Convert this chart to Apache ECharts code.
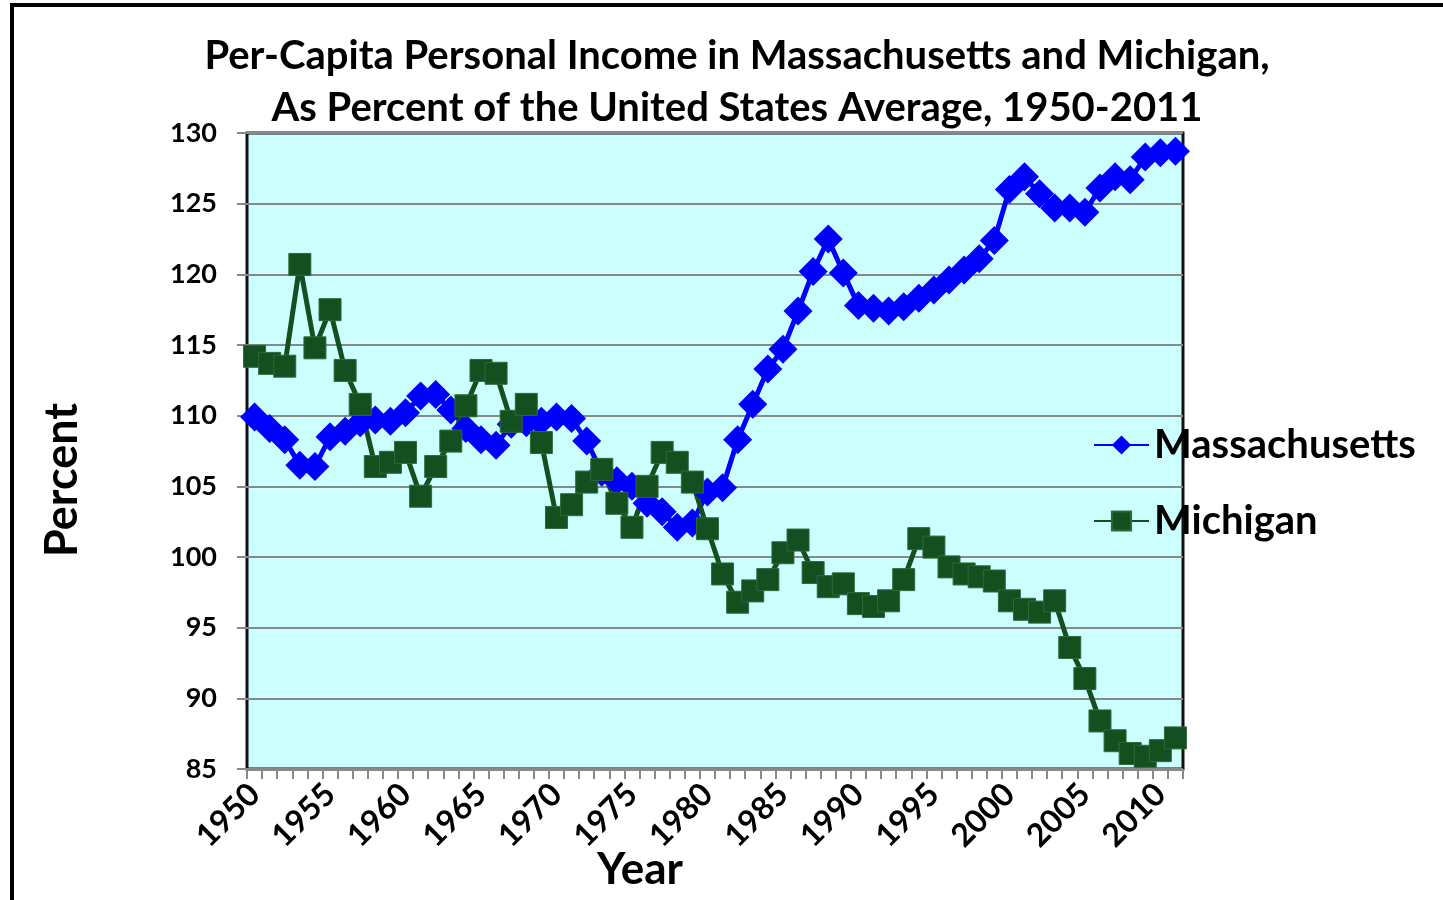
<!DOCTYPE html>
<html>
<head>
<meta charset="utf-8">
<script src="https://cdn.jsdelivr.net/npm/echarts@6/dist/echarts.min.js"></script>
<style>
  html, body { margin: 0; padding: 0; background: #fff; }
  #chart { width: 1443px; height: 900px; }
</style>
</head>
<body>
<div id="chart"></div>
<script>
var years = ['1950','1951','1952','1953','1954','1955','1956','1957','1958','1959',
             '1960','1961','1962','1963','1964','1965','1966','1967','1968','1969',
             '1970','1971','1972','1973','1974','1975','1976','1977','1978','1979',
             '1980','1981','1982','1983','1984','1985','1986','1987','1988','1989',
             '1990','1991','1992','1993','1994','1995','1996','1997','1998','1999',
             '2000','2001','2002','2003','2004','2005','2006','2007','2008','2009',
             '2010','2011'];

// percent of US average
var massachusetts = [109.9, 109.1, 108.3, 106.5, 106.4, 108.5, 108.9, 109.5, 109.7, 109.6,
                     110.2, 111.4, 111.5, 110.4, 109.1, 108.3, 107.9, 109.4, 109.5, 109.6,
                     109.9, 109.8, 108.2, 106.0, 105.4, 105.0, 103.8, 103.2, 102.1, 102.4,
                     104.6, 104.9, 108.3, 110.8, 113.3, 114.7, 117.4, 120.2, 122.5, 120.1,
                     117.8, 117.6, 117.4, 117.7, 118.3, 118.9, 119.6, 120.3, 121.1, 122.4,
                     126.0, 126.9, 125.7, 124.7, 124.7, 124.4, 126.1, 126.9, 126.7, 128.3,
                     128.6, 128.7];
var michigan = [114.2, 113.7, 113.5, 120.7, 114.8, 117.5, 113.2, 110.8, 106.4, 106.7,
                107.4, 104.3, 106.4, 108.2, 110.7, 113.2, 113.0, 109.6, 110.8, 108.1,
                102.8, 103.7, 105.3, 106.2, 103.8, 102.1, 105.0, 107.4, 106.7, 105.3,
                102.0, 98.8, 96.8, 97.6, 98.4, 100.3, 101.2, 98.9, 97.9, 98.1,
                96.7, 96.5, 96.9, 98.4, 101.3, 100.7, 99.3, 98.8, 98.6, 98.3,
                96.9, 96.3, 96.1, 96.9, 93.6, 91.4, 88.4, 87.0, 86.1, 85.9,
                86.3, 87.2];

var yMin = 85, yMax = 130, yStep = 5;
var FONT = 'Lato';

var chart = echarts.init(document.getElementById('chart'));

var option = {
    backgroundColor: '#fff',
    animation: false,
    title: {
        text: 'Per-Capita Personal Income in Massachusetts and Michigan,\nAs Percent of the United States Average, 1950-2011',
        left: 732,
        top: 25,
        textAlign: 'center',
        textStyle: {
            fontFamily: FONT,
            fontWeight: 'bold',
            fontSize: 40,
            lineHeight: 52,
            color: '#000'
        }
    },
    legend: {
        orient: 'vertical',
        left: 1088,
        top: 420,
        itemWidth: 55,
        itemHeight: 24,
        itemGap: 36,
        z: 10,
        textStyle: {
            fontFamily: FONT,
            fontWeight: 'bold',
            fontSize: 40,
            lineHeight: 40,
            color: '#000'
        },
        data: ['Massachusetts', 'Michigan']
    },
    grid: {
        left: 247,
        top: 133,
        width: 936,
        height: 636,
        show: true,
        backgroundColor: '#CCFFFF',
        borderColor: '#111',
        borderWidth: 3
    },
    xAxis: {
        type: 'category',
        data: years,
        boundaryGap: true,
        axisLine: { show: false },
        axisTick: {
            show: true,
            interval: 0,
            length: 10,
            lineStyle: { color: '#888', width: 2 }
        },
        axisLabel: {
            interval: 4,
            rotate: 45,
            margin: 20,
            fontFamily: FONT,
            fontWeight: 'bold',
            fontSize: 32,
            color: '#000'
        },
        splitLine: { show: false }
    },
    yAxis: {
        type: 'value',
        min: yMin,
        max: yMax,
        interval: yStep,
        axisLine: { show: false },
        axisTick: {
            show: true,
            length: 10,
            lineStyle: { color: '#888', width: 2 }
        },
        axisLabel: {
            margin: 30,
            fontFamily: FONT,
            fontWeight: 'bold',
            fontSize: 27,
            color: '#000'
        },
        splitLine: {
            show: true,
            lineStyle: { color: '#888', width: 2 }
        }
    },
    graphic: [
        {
            type: 'rect',
            z: 100,
            silent: true,
            shape: { x: 12, y: 5, width: 1460, height: 920 },
            style: { fill: 'none', stroke: '#000', lineWidth: 4 }
        },
        {
            type: 'text',
            x: 62,
            y: 480,
            rotation: Math.PI / 2,
            style: {
                text: 'Percent',
                fontFamily: FONT,
                fontWeight: 'bold',
                fontSize: 45,
                fill: '#000',
                align: 'center',
                verticalAlign: 'middle'
            }
        },
        {
            type: 'text',
            x: 640,
            y: 870,
            style: {
                text: 'Year',
                fontFamily: FONT,
                fontWeight: 'bold',
                fontSize: 44,
                fill: '#000',
                align: 'center',
                verticalAlign: 'middle'
            }
        }
    ],
    series: [
        {
            name: 'Massachusetts',
            type: 'line',
            data: massachusetts,
            showAllSymbol: true,
            symbol: 'diamond',
            symbolSize: 29,
            itemStyle: { color: '#0000FF' },
            lineStyle: { color: '#0000FF', width: 5 }
        },
        {
            name: 'Michigan',
            type: 'line',
            data: michigan,
            showAllSymbol: true,
            symbol: 'rect',
            symbolSize: 22,
            itemStyle: { color: '#144F20', borderColor: '#2E6A3A', borderWidth: 1 },
            lineStyle: { color: '#144F20', width: 5 }
        }
    ]
};

chart.setOption(option);
</script>
</body>
</html>
